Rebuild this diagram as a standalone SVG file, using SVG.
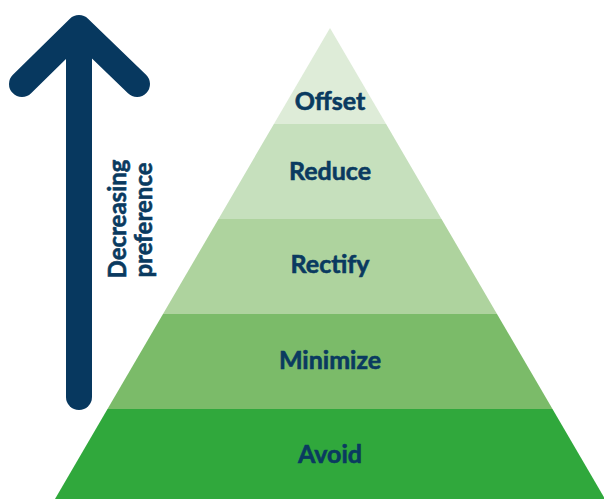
<svg xmlns="http://www.w3.org/2000/svg" width="604" height="499" viewBox="0 0 604 499">
<style>
.lbl{font-family:Lato,"Open Sans","Liberation Sans",sans-serif;font-weight:bold;font-size:25px;fill:#0a3a60;stroke:#0a3a60;stroke-width:0.6;text-anchor:middle}
.side{font-family:Lato,"Open Sans","Liberation Sans",sans-serif;font-weight:bold;font-size:24px;fill:#0a3a60;stroke:#0a3a60;stroke-width:0.6;text-anchor:middle}
.arrow{fill:none;stroke:#07385f;stroke-width:26;stroke-linecap:round;stroke-linejoin:round}
</style>
<rect width="604" height="499" fill="#ffffff"/>
<g id="offset">
<polygon points="330,28 386.1,124 273.9,124" fill="#deecd8"/>
<text class="lbl" x="330" y="110">Offset</text>
</g>
<g id="reduce">
<polygon points="273.9,124 386.1,124 441.5,219 218.5,219" fill="#c6e0bd"/>
<text class="lbl" x="330" y="180">Reduce</text>
</g>
<g id="rectify">
<polygon points="218.5,219 441.5,219 497,314 163,314" fill="#aed39e"/>
<text class="lbl" x="330" y="273">Rectify</text>
</g>
<g id="minimize">
<polygon points="163,314 497,314 552.5,409 107.5,409" fill="#7bbb69"/>
<text class="lbl" x="330" y="369">Minimize</text>
</g>
<g id="avoid">
<polygon points="107.5,409 552.5,409 605,499 55,499" fill="#30a83c"/>
<text class="lbl" x="330" y="463">Avoid</text>
</g>
<g id="preference-arrow">
<path class="arrow" d="M22,84 L79,28 L137,84"/>
<path class="arrow" d="M79,30 L79,397"/>
<text class="side" transform="translate(126,219) rotate(-90)">Decreasing</text>
<text class="side" transform="translate(152,220) rotate(-90)">preference</text>
</g>
</svg>
